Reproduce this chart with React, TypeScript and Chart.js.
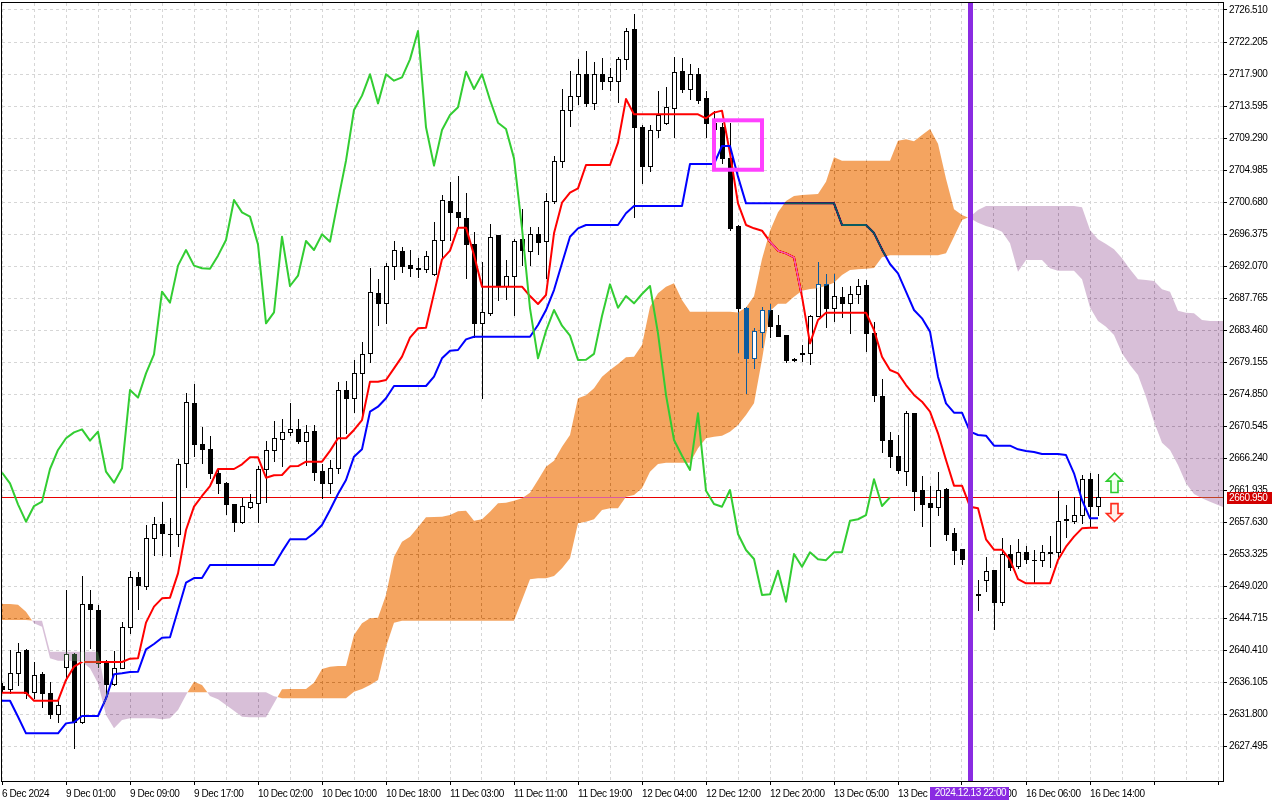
import React, { useEffect, useRef } from "react";
import { Chart, registerables } from "chart.js";

Chart.register(...registerables);

// ---------- data (hourly candles, bar index 0..137) ----------
const timeLabels = [
  "6 Dec 2024", "9 Dec 01:00", "9 Dec 09:00", "9 Dec 17:00", "10 Dec 02:00", "10 Dec 10:00",
  "10 Dec 18:00", "11 Dec 03:00", "11 Dec 11:00", "11 Dec 19:00", "12 Dec 04:00", "12 Dec 12:00",
  "12 Dec 20:00", "13 Dec 05:00", "13 Dec 13:00", "13 Dec 21:00", "16 Dec 06:00", "16 Dec 14:00",
];

const priceTicks = [
  2627.495, 2631.8, 2636.105, 2640.41, 2644.715, 2649.02, 2653.325, 2657.63, 2661.935, 2666.24,
  2670.545, 2674.85, 2679.155, 2683.46, 2687.765, 2692.07, 2696.375, 2700.68, 2704.985, 2709.29,
  2713.595, 2717.9, 2722.205, 2726.51,
];

const opens = [
  2635.57, 2635.12, 2637.27, 2640.41, 2634.81, 2637.18, 2634.58, 2631.76, 2638.08, 2639.83,
  2630.68, 2646.55, 2645.79, 2638.71, 2635.79, 2638.03, 2643.55, 2650.28, 2649.02, 2655.43,
  2657.32, 2656.0, 2655.97, 2665.52, 2673.6, 2668.12, 2667.41, 2664.27, 2662.83, 2660.01,
  2657.67, 2659.6, 2660.14, 2664.76, 2667.32, 2668.75, 2669.69, 2670.1, 2668.57, 2669.87,
  2664.49, 2662.92, 2664.85, 2675.39, 2674.36, 2677.63, 2680.32, 2688.39, 2687.14, 2692.12,
  2694.09, 2692.21, 2691.8, 2691.62, 2690.95, 2695.57, 2700.81, 2699.38, 2698.48, 2694.98,
  2684.36, 2685.7, 2696.19, 2689.38, 2690.77, 2695.66, 2694.09, 2696.33, 2695.43, 2700.81,
  2706.24, 2713.06, 2714.99, 2717.86, 2713.95, 2717.86, 2717.0, 2717.0, 2719.87, 2723.95,
  2710.82, 2705.57, 2710.37, 2711.26, 2713.28, 2718.3, 2715.88, 2717.86, 2714.63, 2711.35,
  2710.82, 2706.55, 2697.45, 2686.37, 2679.65, 2683.24, 2686.15, 2684.13, 2682.79, 2679.6,
  2680.3, 2680.32, 2685.34, 2689.6, 2686.46, 2687.94, 2687.05, 2688.3, 2689.51, 2683.01,
  2674.58, 2668.66, 2666.51, 2664.54, 2672.25, 2661.93, 2660.14, 2659.69, 2662.07, 2656.1,
  2653.95, 2652.6, 2647.81, 2649.83, 2651.17, 2646.91, 2653.32, 2651.71, 2653.55, 2652.55,
  2652.52, 2653.5, 2653.64, 2657.9, 2657.81, 2658.57, 2663.37, 2659.83,
];

const highs = [
  2636.0, 2640.41, 2641.4, 2640.5, 2638.84, 2637.4, 2636.15, 2633.91, 2648.48, 2640.0,
  2650.37, 2648.48, 2646.46, 2639.06, 2640.28, 2644.22, 2651.04, 2650.95, 2657.23, 2658.35,
  2660.28, 2658.12, 2666.06, 2675.03, 2676.2, 2670.37, 2669.2, 2664.6, 2663.0, 2660.1,
  2660.81, 2661.35, 2665.21, 2668.57, 2671.22, 2671.44, 2673.6, 2671.44, 2670.68, 2670.68,
  2665.43, 2665.97, 2676.51, 2676.6, 2679.42, 2681.89, 2691.85, 2690.28, 2692.43, 2695.43,
  2694.67, 2694.22, 2693.1, 2694.09, 2698.03, 2701.62, 2703.42, 2704.18, 2701.85, 2696.69,
  2692.65, 2697.67, 2696.3, 2692.88, 2695.66, 2699.69, 2697.27, 2697.36, 2701.94, 2706.91,
  2715.88, 2718.3, 2719.92, 2720.99, 2719.47, 2720.01, 2718.66, 2720.23, 2724.04, 2725.97,
  2711.04, 2711.04, 2715.61, 2716.2, 2720.23, 2720.1, 2719.25, 2718.75, 2715.61, 2712.9,
  2711.26, 2711.26, 2697.6, 2686.5, 2683.69, 2686.6, 2686.91, 2685.48, 2682.8, 2679.7,
  2681.44, 2685.48, 2692.56, 2690.95, 2690.95, 2689.29, 2689.38, 2690.32, 2690.19, 2684.58,
  2676.87, 2669.78, 2669.33, 2672.56, 2672.3, 2663.82, 2662.47, 2664.41, 2662.25, 2656.87,
  2654.0, 2653.0, 2649.83, 2652.88, 2651.2, 2655.43, 2654.54, 2655.3, 2654.4, 2653.86,
  2654.54, 2655.75, 2661.8, 2659.92, 2660.95, 2663.95, 2664.18, 2664.04,
];

const lows = [
  2634.9, 2634.58, 2635.7, 2633.91, 2633.91, 2632.79, 2631.22, 2630.77, 2636.38, 2627.27,
  2630.54, 2640.63, 2638.17, 2634.36, 2635.7, 2637.94, 2642.74, 2645.88, 2648.57, 2653.19,
  2653.19, 2653.06, 2654.45, 2662.38, 2666.51, 2665.52, 2663.5, 2661.49, 2658.66, 2656.46,
  2657.54, 2659.47, 2657.67, 2660.37, 2665.88, 2665.21, 2669.3, 2668.3, 2665.3, 2663.28,
  2660.9, 2661.49, 2664.18, 2669.56, 2672.47, 2671.58, 2679.2, 2684.13, 2684.45, 2690.28,
  2691.31, 2690.72, 2690.64, 2691.31, 2690.86, 2693.1, 2695.57, 2697.45, 2690.5, 2682.56,
  2674.27, 2685.48, 2687.5, 2687.59, 2685.48, 2692.2, 2692.2, 2693.64, 2690.41, 2700.5,
  2705.43, 2710.95, 2713.82, 2713.64, 2713.15, 2715.88, 2715.75, 2714.18, 2718.53, 2698.71,
  2703.28, 2704.89, 2709.47, 2711.2, 2709.47, 2715.43, 2714.54, 2713.95, 2709.47, 2709.8,
  2705.88, 2696.9, 2680.55, 2674.94, 2678.3, 2681.22, 2682.56, 2682.65, 2679.2, 2679.3,
  2679.33, 2678.84, 2685.3, 2683.91, 2684.72, 2685.25, 2683.1, 2687.05, 2680.68, 2673.95,
  2667.09, 2664.98, 2664.18, 2662.61, 2659.24, 2657.09, 2654.4, 2658.57, 2655.21, 2651.98,
  2651.98, 2647.3, 2645.79, 2648.39, 2643.19, 2646.46, 2651.17, 2651.4, 2652.07, 2649.38,
  2651.71, 2651.53, 2652.97, 2655.57, 2657.45, 2657.45, 2657.0, 2658.57,
];

const closes = [
  2635.12, 2637.27, 2640.19, 2634.67, 2637.05, 2634.58, 2631.76, 2633.01, 2639.83, 2630.68,
  2646.55, 2645.88, 2638.62, 2635.79, 2638.03, 2643.55, 2650.28, 2649.16, 2655.43, 2657.32,
  2656.11, 2655.95, 2665.39, 2673.82, 2668.12, 2667.41, 2664.27, 2662.83, 2660.01, 2657.67,
  2659.78, 2660.37, 2664.76, 2667.32, 2668.89, 2669.69, 2670.1, 2668.57, 2669.78, 2664.4,
  2662.92, 2664.85, 2675.39, 2674.36, 2677.63, 2680.19, 2688.62, 2687.14, 2692.12, 2694.22,
  2692.12, 2691.76, 2691.7, 2693.46, 2695.57, 2700.95, 2699.29, 2698.71, 2694.98, 2684.36,
  2685.84, 2696.01, 2689.38, 2690.77, 2695.43, 2694.22, 2696.33, 2695.34, 2700.86, 2706.24,
  2713.06, 2714.99, 2717.86, 2713.95, 2717.86, 2717.0, 2717.45, 2719.87, 2723.69, 2710.73,
  2705.57, 2710.37, 2712.38, 2713.42, 2718.21, 2715.88, 2717.86, 2714.4, 2711.35, 2710.5,
  2706.55, 2697.14, 2686.37, 2679.65, 2683.33, 2686.15, 2684.04, 2682.7, 2679.42, 2679.45,
  2680.25, 2685.34, 2689.6, 2686.46, 2688.03, 2687.05, 2688.3, 2689.38, 2683.01, 2674.72,
  2668.66, 2666.55, 2664.63, 2672.25, 2661.84, 2660.05, 2659.69, 2661.93, 2656.02, 2653.86,
  2652.65, 2647.8, 2647.9, 2651.08, 2646.91, 2653.32, 2651.62, 2653.55, 2652.61, 2652.5,
  2653.55, 2653.55, 2657.81, 2658.0, 2658.57, 2663.37, 2659.78, 2660.95,
];

const tenkan = [
  2634.67, 2634.67, 2634.67, 2634.67, 2633.59, 2633.59, 2633.59, 2633.59, 2636.38, 2638.17,
  2638.8, 2638.8, 2638.8, 2638.8, 2638.8, 2638.8, 2639.25, 2639.29, 2644.09, 2646.24,
  2647.36, 2647.45, 2650.72, 2656.55, 2659.69, 2661.13, 2662.47, 2664.76, 2664.76, 2664.76,
  2665.39, 2666.33, 2666.33, 2663.59, 2663.91, 2663.95, 2665.12, 2665.16, 2665.75, 2665.75,
  2665.75, 2667.2, 2668.89, 2668.89, 2670.01, 2671.35, 2676.51, 2676.51, 2676.73, 2678.3,
  2679.87, 2682.43, 2683.68, 2683.77, 2688.39, 2692.97, 2694.13, 2697.23, 2697.23, 2693.55,
  2689.29, 2689.29, 2689.29, 2689.29, 2689.29, 2689.29, 2688.03, 2686.96, 2688.17, 2696.46,
  2700.59, 2701.93, 2702.52, 2705.66, 2705.66, 2705.66, 2705.66, 2708.66, 2714.54, 2712.47,
  2712.47, 2712.47, 2712.47, 2712.47, 2712.47, 2712.47, 2712.47, 2712.47, 2711.94, 2712.7,
  2712.97, 2707.23, 2700.5, 2697.59, 2697.14, 2696.82, 2695.34, 2694.13, 2693.77, 2693.24,
  2687.94, 2681.67, 2684.8, 2685.79, 2685.79, 2685.79, 2685.79, 2685.79, 2685.79, 2683.46,
  2679.87, 2678.08, 2677.63, 2676.06, 2674.72, 2673.82, 2672.47, 2669.56, 2665.97, 2662.52,
  2662.52, 2659.69, 2659.47, 2655.3, 2653.91, 2653.91, 2652.52, 2649.96, 2649.38, 2649.38,
  2649.38, 2649.38, 2652.52, 2654.31, 2655.66, 2656.78, 2656.87, 2656.87,
];

const kijun = [
  2633.59, 2633.59, 2631.44, 2629.2, 2629.2, 2629.2, 2629.2, 2629.2, 2630.54, 2630.68,
  2631.53, 2631.53, 2631.53, 2633.91, 2637.14, 2637.27, 2637.45, 2637.5, 2640.5, 2641.22,
  2642.07, 2642.12, 2645.79, 2649.47, 2650.09, 2650.09, 2651.85, 2651.85, 2651.85, 2651.85,
  2651.85, 2651.85, 2651.85, 2651.85, 2651.85, 2653.64, 2655.3, 2655.3, 2655.3, 2656.11,
  2657.23, 2659.25, 2661.4, 2663.28, 2666.42, 2667.41, 2672.47, 2673.14, 2674.27, 2675.93,
  2675.93, 2675.93, 2675.93, 2675.93, 2677.18, 2679.65, 2680.68, 2680.77, 2682.2, 2682.56,
  2682.56, 2682.56, 2682.56, 2682.56, 2682.56, 2682.56, 2682.56, 2684.13, 2686.15, 2688.84,
  2692.43, 2696.01, 2697.14, 2697.59, 2697.59, 2697.59, 2697.59, 2697.59, 2699.16, 2700.14,
  2700.14, 2700.14, 2700.14, 2700.14, 2700.14, 2700.14, 2705.79, 2705.79, 2705.79, 2705.79,
  2708.21, 2708.21, 2704.09, 2700.5, 2700.5, 2700.5, 2700.5, 2700.5, 2700.5, 2700.5,
  2700.5, 2700.5, 2700.5, 2700.5, 2700.5, 2697.59, 2697.59, 2697.59, 2697.59, 2696.5,
  2694.3, 2692.34, 2691.08, 2688.62, 2686.15, 2685.03, 2683.24, 2677.18, 2673.59, 2672.34,
  2672.34, 2669.78, 2669.33, 2669.24, 2667.9, 2667.9, 2667.9, 2667.41, 2667.18, 2667.05,
  2666.78, 2666.78, 2666.78, 2666.64, 2664.18, 2660.59, 2658.12, 2658.12,
];

const chikou = [
  2664.27, 2662.83, 2660.01, 2657.67, 2659.78, 2660.37, 2664.76, 2667.32, 2668.89, 2669.69,
  2670.1, 2668.57, 2669.78, 2664.4, 2662.92, 2664.85, 2675.39, 2674.36, 2677.63, 2680.19,
  2688.62, 2687.14, 2692.12, 2694.22, 2692.12, 2691.76, 2691.7, 2693.46, 2695.57, 2700.95,
  2699.29, 2698.71, 2694.98, 2684.36, 2685.84, 2696.01, 2689.38, 2690.77, 2695.43, 2694.22,
  2696.33, 2695.34, 2700.86, 2706.24, 2713.06, 2714.99, 2717.86, 2713.95, 2717.86, 2717.0,
  2717.45, 2719.87, 2723.69, 2710.73, 2705.57, 2710.37, 2712.38, 2713.42, 2718.21, 2715.88,
  2717.86, 2714.4, 2711.35, 2710.5, 2706.55, 2697.14, 2686.37, 2679.65, 2683.33, 2686.15,
  2684.04, 2682.7, 2679.42, 2679.45, 2680.25, 2685.34, 2689.6, 2686.46, 2688.03, 2687.05,
  2688.3, 2689.38, 2683.01, 2674.72, 2668.66, 2666.55, 2664.63, 2672.25, 2661.84, 2660.05,
  2659.69, 2661.93, 2656.02, 2653.86, 2652.65, 2647.8, 2647.9, 2651.08, 2646.91, 2653.32,
  2651.62, 2653.55, 2652.61, 2652.5, 2653.55, 2653.55, 2657.81, 2658.0, 2658.57, 2663.37,
  2659.78, 2660.95,
];

const senkouA = [
  2646.6, 2646.6, 2646.51, 2645.57, 2644.0, 2643.55, 2639.29, 2638.98, 2638.98, 2638.93,
  2638.84, 2637.94, 2635.93, 2631.67, 2629.87, 2630.99, 2631.22, 2631.22, 2631.22, 2631.22,
  2631.08, 2631.22, 2632.34, 2634.36, 2636.15, 2635.7, 2634.22, 2633.77, 2633.01, 2632.25,
  2631.44, 2631.35, 2631.35, 2631.35, 2633.23, 2635.12, 2635.16, 2635.16, 2635.16, 2636.02,
  2637.85, 2638.17, 2638.26, 2638.26, 2642.43, 2644.0, 2644.67, 2644.76, 2647.81, 2652.97,
  2654.98, 2655.66, 2656.91, 2658.26, 2658.3, 2658.35, 2658.57, 2659.06, 2659.15, 2657.81,
  2657.99, 2659.02, 2660.14, 2660.23, 2660.5, 2660.81, 2661.58, 2663.28, 2665.07, 2665.88,
  2667.77, 2669.33, 2674.27, 2674.67, 2675.61, 2677.18, 2678.08, 2678.89, 2679.78, 2679.87,
  2681.44, 2686.6, 2688.39, 2689.29, 2689.74, 2687.5, 2685.93, 2685.93, 2685.93, 2685.93,
  2685.93, 2685.93, 2685.8, 2686.5, 2688.0, 2693.0, 2696.8, 2699.3, 2700.8, 2701.49,
  2701.62, 2701.7, 2701.76, 2703.42, 2706.69, 2706.24, 2706.24, 2706.24, 2706.24, 2706.24,
  2706.24, 2706.24, 2708.93, 2709.11, 2708.84, 2709.69, 2710.5, 2708.5, 2703.8, 2699.69,
  2698.93, 2698.48, 2697.9, 2697.45, 2697.14, 2696.69, 2695.12, 2691.31, 2692.88, 2692.88,
  2692.88, 2691.76, 2691.44, 2691.44, 2691.44, 2690.28, 2686.5, 2684.67, 2683.91, 2682.79,
  2680.32, 2678.75, 2677.41, 2674.49, 2671.13, 2668.3, 2667.32, 2665.3, 2662.83, 2661.4,
  2660.81, 2660.37, 2659.92, 2659.47,
];

const senkouB = [
  2644.45, 2644.45, 2644.45, 2644.45, 2644.36, 2644.36, 2640.19, 2640.19, 2640.19, 2640.19,
  2640.19, 2640.19, 2640.19, 2634.71, 2634.71, 2634.71, 2634.71, 2634.71, 2634.71, 2634.71,
  2634.71, 2634.71, 2634.71, 2634.71, 2634.71, 2634.71, 2634.71, 2634.71, 2634.71, 2634.71,
  2634.71, 2634.71, 2634.71, 2634.71, 2634.2, 2633.91, 2633.91, 2633.91, 2633.91, 2633.91,
  2633.91, 2633.91, 2633.91, 2633.91, 2634.81, 2635.16, 2635.7, 2636.37, 2640.86, 2644.09,
  2644.36, 2644.36, 2644.36, 2644.36, 2644.36, 2644.36, 2644.36, 2644.36, 2644.36, 2644.36,
  2644.36, 2644.36, 2644.36, 2644.36, 2644.36, 2647.14, 2649.92, 2650.05, 2650.05, 2650.37,
  2651.4, 2652.74, 2657.45, 2657.67, 2657.99, 2659.24, 2659.47, 2659.47, 2661.04, 2661.26,
  2662.16, 2664.4, 2665.43, 2665.61, 2665.61, 2665.61, 2665.61, 2667.54, 2668.89, 2669.11,
  2669.24, 2669.78, 2670.68, 2672.03, 2673.59, 2679.5, 2686.0, 2687.0, 2687.0, 2687.94,
  2688.75, 2688.98, 2689.07, 2689.42, 2689.83, 2690.86, 2691.53, 2691.62, 2691.71, 2691.8,
  2693.24, 2693.51, 2693.51, 2693.51, 2693.51, 2693.51, 2693.51, 2693.51, 2693.77, 2696.02,
  2698.26, 2698.71, 2699.6, 2700.14, 2700.14, 2700.14, 2700.14, 2700.14, 2700.14, 2700.14,
  2700.14, 2700.14, 2700.14, 2700.14, 2700.14, 2699.96, 2696.91, 2695.66, 2695.03, 2694.31,
  2693.1, 2691.62, 2690.28, 2690.19, 2690.05, 2688.93, 2688.62, 2686.06, 2685.79, 2685.7,
  2684.81, 2684.67, 2684.67, 2684.67,
];

const currentPrice = 2660.95;
const markerBar = 121;
const markerLabel = "2024.12.13 22:00";
const boxBars = [89, 95];
const boxPrices = [2711.67, 2705.02];
const arrowBar = 139;
const upArrow = [2664.2, 2661.6];
const downArrow = [2660.1, 2657.7];

// ---------- style ----------
const FONT = '"Liberation Sans", Arial, sans-serif';
const FONT_SIZE = 10;
const LETTER_SPACING = "-0.4px";
const GRID = "#d6d6d6";
const PRICE_RED = "#d20000";
const PRICE_LINE = "#e80000";

export default function App() {
  const ref = useRef<HTMLCanvasElement>(null);

  useEffect(() => {
    document.body.style.margin = "0";
    const canvas = ref.current;
    if (!canvas) return;

    const candleGeom = (chart: any, i: number) => {
      const { x, y } = chart.scales;
      const cx = Math.round(x.getPixelForValue(i));
      const o = opens[i];
      const c = closes[i];
      const yH = Math.round(y.getPixelForValue(highs[i]));
      const yL = Math.round(y.getPixelForValue(lows[i]));
      const yT = Math.round(y.getPixelForValue(Math.max(o, c)));
      const yB = Math.round(y.getPixelForValue(Math.min(o, c)));
      return { cx, yH, yL, yT, yB, bull: c > o };
    };

    const ichimoku = {
      id: "ichimoku",
      beforeDraw(chart: any) {
        const ctx = chart.ctx;
        ctx.save();
        ctx.fillStyle = "#ffffff";
        ctx.fillRect(0, 0, chart.width, chart.height);
        ctx.restore();
        try {
          (ctx as any).letterSpacing = LETTER_SPACING;
        } catch (e) {
          /* ignore */
        }
      },
      beforeDatasetsDraw(chart: any) {
        const { ctx, chartArea: ca, scales } = chart;
        ctx.save();
        ctx.beginPath();
        ctx.rect(ca.left, ca.top, ca.right - ca.left, ca.bottom - ca.top);
        ctx.clip();
        // bid line
        const py = Math.round(scales.y.getPixelForValue(currentPrice));
        ctx.fillStyle = PRICE_LINE;
        ctx.fillRect(ca.left, py, ca.right - ca.left, 1);
        // candles
        for (let i = 0; i < opens.length; i++) {
          const g = candleGeom(chart, i);
          ctx.fillStyle = "#000";
          ctx.fillRect(g.cx, g.yH, 1, g.yL - g.yH + 1);
          if (g.yB - g.yT < 1) {
            ctx.fillRect(g.cx - 2, g.yT, 5, 1);
            continue;
          }
          ctx.fillRect(g.cx - 2, g.yT, 5, g.yB - g.yT + 1);
          if (g.bull && g.yB - g.yT >= 2) {
            ctx.fillStyle = "#fff";
            ctx.fillRect(g.cx - 1, g.yT + 1, 3, g.yB - g.yT - 1);
          }
        }
        ctx.restore();
      },
      beforeDatasetDraw(chart: any, args: any) {
        if (args.index !== 0) return;
        const { ctx, chartArea: ca, scales } = chart;
        const { x, y } = scales;
        const up = new Path2D();
        const down = new Path2D();
        const quad = (p: Path2D, xa: number, a1: number, b1: number, xb: number, a2: number, b2: number) => {
          p.moveTo(xa, y.getPixelForValue(a1));
          p.lineTo(xb, y.getPixelForValue(a2));
          p.lineTo(xb, y.getPixelForValue(b2));
          p.lineTo(xa, y.getPixelForValue(b1));
          p.closePath();
        };
        const n = Math.min(senkouA.length, senkouB.length);
        for (let i = 0; i < n - 1; i++) {
          const a0 = senkouA[i], b0 = senkouB[i], a1 = senkouA[i + 1], b1 = senkouB[i + 1];
          const x0 = x.getPixelForValue(i), x1 = x.getPixelForValue(i + 1);
          const d0 = a0 - b0, d1 = a1 - b1;
          if (d0 >= 0 && d1 >= 0) quad(up, x0, a0, b0, x1, a1, b1);
          else if (d0 <= 0 && d1 <= 0) quad(down, x0, a0, b0, x1, a1, b1);
          else {
            const t = d0 / (d0 - d1);
            const xc = x0 + t * (x1 - x0);
            const vc = a0 + t * (a1 - a0);
            quad(d0 > 0 ? up : down, x0, a0, b0, xc, vc, vc);
            quad(d1 > 0 ? up : down, xc, vc, vc, x1, a1, b1);
          }
        }
        ctx.save();
        ctx.beginPath();
        ctx.rect(ca.left, ca.top, ca.right - ca.left, ca.bottom - ca.top);
        ctx.clip();
        ctx.globalCompositeOperation = "difference";
        ctx.fillStyle = "#0b5b9f"; // white -> sandy brown
        ctx.fill(up);
        ctx.fillStyle = "#274027"; // white -> thistle
        ctx.fill(down);
        ctx.globalCompositeOperation = "source-over";
        const both = new Path2D();
        both.addPath(up);
        both.addPath(down);
        ctx.clip(both);
        ctx.fillStyle = "#fff";
        for (let i = 0; i < opens.length; i++) {
          const g = candleGeom(chart, i);
          if (g.bull && g.yB - g.yT >= 2) ctx.fillRect(g.cx - 1, g.yT + 1, 3, g.yB - g.yT - 1);
        }
        ctx.restore();
      },
      afterDatasetsDraw(chart: any) {
        const { ctx, chartArea: ca, scales } = chart;
        const { x, y } = scales;
        ctx.save();
        // vertical marker
        const mx = Math.round(x.getPixelForValue(markerBar));
        ctx.fillStyle = "#8a2be2";
        ctx.fillRect(mx - 2, ca.top, 5, ca.bottom - ca.top + 1);
        // rectangle object
        ctx.beginPath();
        ctx.rect(ca.left, ca.top, ca.right - ca.left, ca.bottom - ca.top);
        ctx.clip();
        const bx0 = x.getPixelForValue(boxBars[0]);
        const bx1 = x.getPixelForValue(boxBars[1]);
        const by0 = y.getPixelForValue(boxPrices[0]);
        const by1 = y.getPixelForValue(boxPrices[1]);
        ctx.strokeStyle = "#ff40ff";
        ctx.lineWidth = 4;
        ctx.strokeRect(bx0, by0, bx1 - bx0, by1 - by0);
        // arrows
        const ax = Math.round(x.getPixelForValue(arrowBar)) + 0.5;
        const arrow = (yTop: number, yBot: number, isUp: boolean, stroke: string, fill: string) => {
          const hw = 8, sw = 3.5, hh = 8;
          ctx.beginPath();
          if (isUp) {
            ctx.moveTo(ax, yTop);
            ctx.lineTo(ax + hw, yTop + hh);
            ctx.lineTo(ax + sw, yTop + hh);
            ctx.lineTo(ax + sw, yBot);
            ctx.lineTo(ax - sw, yBot);
            ctx.lineTo(ax - sw, yTop + hh);
            ctx.lineTo(ax - hw, yTop + hh);
          } else {
            ctx.moveTo(ax, yBot);
            ctx.lineTo(ax + hw, yBot - hh);
            ctx.lineTo(ax + sw, yBot - hh);
            ctx.lineTo(ax + sw, yTop);
            ctx.lineTo(ax - sw, yTop);
            ctx.lineTo(ax - sw, yBot - hh);
            ctx.lineTo(ax - hw, yBot - hh);
          }
          ctx.closePath();
          ctx.fillStyle = fill;
          ctx.fill();
          ctx.strokeStyle = stroke;
          ctx.lineWidth = 1.6;
          ctx.stroke();
        };
        arrow(y.getPixelForValue(upArrow[0]), y.getPixelForValue(upArrow[1]), true, "#2ecc2e", "#f2fff0");
        arrow(y.getPixelForValue(downArrow[0]), y.getPixelForValue(downArrow[1]), false, "#ff2a1a", "#fff0ea");
        ctx.restore();
      },
      afterDraw(chart: any) {
        const { ctx, chartArea: ca, scales } = chart;
        const { x, y } = scales;
        ctx.save();
        // frame
        ctx.strokeStyle = "#000";
        ctx.lineWidth = 1;
        ctx.strokeRect(ca.left - 0.5, ca.top - 0.5, ca.right - ca.left + 1, ca.bottom - ca.top + 1);
        // bid price label
        const py = Math.round(y.getPixelForValue(currentPrice));
        ctx.fillStyle = PRICE_RED;
        ctx.fillRect(ca.right + 4, py - 5, 45, 12);
        ctx.fillStyle = "#fff";
        ctx.font = `${FONT_SIZE}px ${FONT}`;
        ctx.textBaseline = "middle";
        ctx.textAlign = "left";
        ctx.fillText(currentPrice.toFixed(3), ca.right + 6, py + 1);
        // marker time label
        const mx = Math.round(x.getPixelForValue(markerBar));
        const tw = ctx.measureText(markerLabel).width;
        ctx.fillStyle = "#8a2be2";
        ctx.fillRect(Math.round(mx - tw / 2 - 4), ca.bottom + 6, Math.round(tw + 8), 14);
        ctx.fillStyle = "#fff";
        ctx.textAlign = "center";
        ctx.textBaseline = "top";
        ctx.fillText(markerLabel, mx + 0.5, ca.bottom + 7);
        ctx.restore();
      },
    };

    const line = (data: number[], color: string) => ({
      data: data.map((v, i) => ({ x: i, y: v })),
      borderColor: color,
      borderWidth: 2,
      pointRadius: 0,
      fill: false,
      tension: 0,
      borderJoinStyle: "round" as const,
    });

    const chart = new Chart(canvas, {
      type: "line",
      data: {
        datasets: [
          { label: "Chikou", ...line(chikou, "#32cd32") },
          { label: "Kijun", ...line(kijun, "#0000ff") },
          { label: "Tenkan", ...line(tenkan, "#ff0000") },
        ],
      },
      options: {
        animation: false,
        responsive: false,
        maintainAspectRatio: false,
        events: [],
        layout: { padding: { left: 2, top: 3, right: 0, bottom: 0 } },
        plugins: { legend: { display: false }, tooltip: { enabled: false } },
        scales: {
          x: {
            type: "linear",
            position: "bottom",
            min: 0,
            max: 152.625,
            afterBuildTicks: (scale: any) => {
              const t = [];
              for (let v = 0; v <= 152; v += 4) t.push({ value: v });
              scale.ticks = t;
            },
            afterFit: (scale: any) => {
              scale.height = 19;
              scale.paddingLeft = 0;
              scale.paddingRight = 0;
              scale.paddingTop = 0;
              scale.paddingBottom = 0;
            },
            ticks: {
              autoSkip: false,
              maxRotation: 0,
              minRotation: 0,
              align: "start",
              padding: 3,
              color: "#000",
              font: { family: FONT, size: FONT_SIZE },
              callback: (value: any) => {
                const v = Math.round(Number(value));
                return v % 8 === 0 ? timeLabels[v / 8] ?? "" : "";
              },
            },
            grid: {
              color: GRID,
              lineWidth: 1,
              drawTicks: true,
              tickLength: 4,
              tickWidth: 1,
              tickColor: (c: any) =>
                c.tick && Math.round(c.tick.value) % 8 === 0 ? "#000" : "rgba(0,0,0,0)",
            },
            border: { display: false, dash: [3, 3] },
          },
          y: {
            type: "linear",
            position: "right",
            min: 2622.787,
            max: 2727.4517,
            afterBuildTicks: (scale: any) => {
              scale.ticks = priceTicks.map((v) => ({ value: v }));
            },
            afterFit: (scale: any) => {
              scale.width = 57;
              scale.paddingTop = 0;
              scale.paddingBottom = 0;
              scale.paddingLeft = 0;
              scale.paddingRight = 0;
            },
            ticks: {
              autoSkip: false,
              padding: 2,
              color: "#000",
              font: { family: FONT, size: FONT_SIZE },
              callback: (v: any) => Number(v).toFixed(3),
            },
            grid: { color: GRID, lineWidth: 1, tickLength: 4, tickColor: "#000", tickWidth: 1 },
            border: { display: false, dash: [3, 3] },
          },
        },
      },
      plugins: [ichimoku],
    } as any);

    return () => chart.destroy();
  }, []);

  return (
    <div style={{ position: "absolute", left: 0, top: 0, width: 1280, height: 800, background: "#fff" }}>
      <canvas ref={ref} width={1280} height={800} style={{ display: "block", width: 1280, height: 800 }} />
    </div>
  );
}
